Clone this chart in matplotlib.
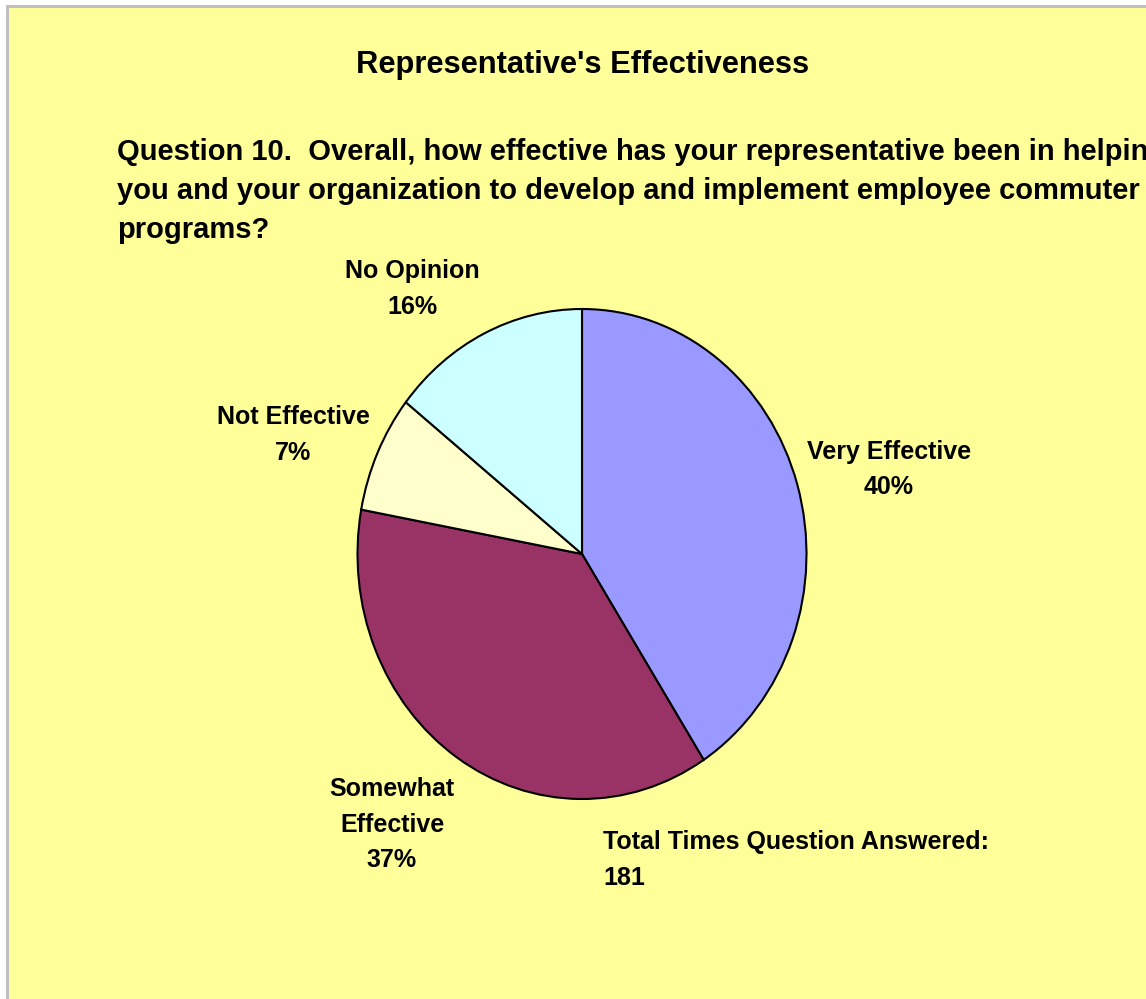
import matplotlib
matplotlib.use("Agg")
import matplotlib.pyplot as plt
from matplotlib.patches import Rectangle

plt.rcParams['font.family'] = ['Liberation Sans', 'DejaVu Sans']

categories = ["Very Effective", "Somewhat\nEffective", "Not Effective", "No Opinion"]
counts = [74, 67, 14, 26]
pct_labels = ["40%", "37%", "7%", "16%"]
colors = ["#9999FF", "#993366", "#FFFFCC", "#CCFFFF"]
total_answered = 181

W, H = 1146, 999
fig = plt.figure(figsize=(W / 100, H / 100), dpi=100, facecolor="white")

def fx(x):
    return x / W

def fy(y):
    return 1 - y / H

# chart area background
fig.patches.append(Rectangle((fx(7), -0.01), 1 - fx(7) + 0.01, fy(6) + 0.01, transform=fig.transFigure,
                             facecolor="#FFFF99", edgecolor="#C0C0C0", linewidth=2.2, zorder=-5))

# pie axes (slightly elliptical as in reference)
cx, cy, rx, ry = 582, 554, 224.5, 245
ax = fig.add_axes([fx(cx - rx), fy(cy + ry), (2 * rx) / W, (2 * ry) / H])
ax.set_zorder(2)
ax.pie(counts, colors=colors, startangle=90, counterclock=False, radius=1,
       wedgeprops=dict(edgecolor="black", linewidth=1.5))
ax.set_aspect('auto')
ax.set_xlim(-1.0, 1.0)
ax.set_ylim(-1.0, 1.0)
ax.axis('off')
ax.patch.set_alpha(0)

fs = 18
fig.text(fx(583), fy(65), "Representative's Effectiveness", ha="center", va="center",
         fontsize=22.2, fontweight="bold", zorder=3)
fig.text(fx(117), fy(191),
         "Question 10.  Overall, how effective has your representative been in helping\n"
         "you and your organization to develop and implement employee commuter\n"
         "programs?", ha="left", va="center", fontsize=21, fontweight="bold",
         linespacing=1.49, zorder=3)

label_pos = [(889, 469.5), (392, 824.5), (293, 435), (412, 289)]
for cat, pct, (x, y) in zip(categories, pct_labels, label_pos):
    fig.text(fx(x), fy(y), f"{cat}\n{pct}", ha="center", va="center",
             fontsize=fs, fontweight="bold", linespacing=1.6, zorder=3)

fig.text(fx(603), fy(860), f"Total Times Question Answered:\n{total_answered}", ha="left",
         va="center", fontsize=fs, fontweight="bold", linespacing=1.6, zorder=3)

fig.savefig("out.png", dpi=100, facecolor="white")
